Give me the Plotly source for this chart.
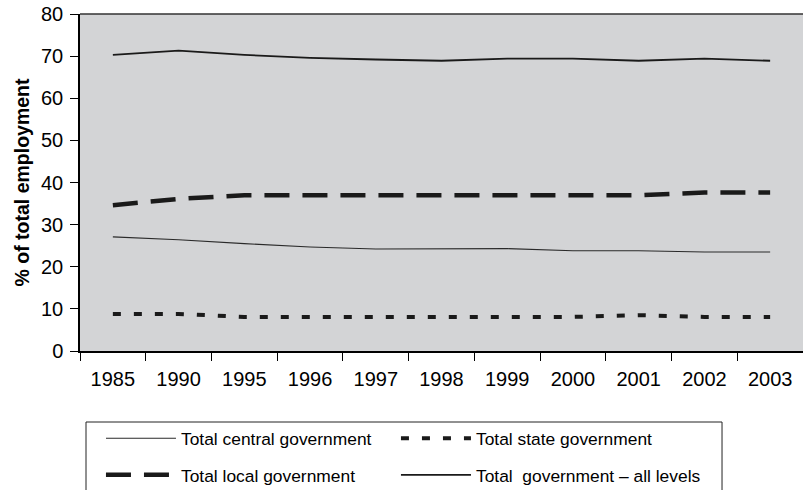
import plotly.graph_objects as go

# Government employment shares, % of total employment
years = ["1985", "1990", "1995", "1996", "1997", "1998", "1999", "2000", "2001", "2002", "2003"]
central_gov = [27.1, 26.4, 25.5, 24.7, 24.2, 24.2, 24.3, 23.8, 23.8, 23.5, 23.5]
state_gov = [8.8, 8.8, 8.1, 8.1, 8.1, 8.1, 8.1, 8.1, 8.5, 8.1, 8.1]
local_gov = [34.6, 36.1, 37.0, 37.0, 37.0, 36.9, 37.0, 37.0, 37.0, 37.6, 37.6]
all_levels = [70.3, 71.3, 70.3, 69.6, 69.2, 68.9, 69.4, 69.4, 68.9, 69.4, 68.9]

FONT = "Liberation Sans, Arial, Helvetica, sans-serif"

fig = go.Figure()
fig.add_trace(go.Scatter(
    x=years, y=central_gov, mode="lines", name="Total central government",
    line=dict(color="#2a2a2a", width=1.1), legend="legend"))
fig.add_trace(go.Scatter(
    x=years, y=state_gov, mode="lines", name="Total state government",
    line=dict(color="#1a1a1a", width=4, dash="8px,13px"), legend="legend2"))
fig.add_trace(go.Scatter(
    x=years, y=local_gov, mode="lines", name="Total local government",
    line=dict(color="#1a1a1a", width=4.5, dash="25px,13px"), legend="legend3"))
fig.add_trace(go.Scatter(
    x=years, y=all_levels, mode="lines", name="Total  government \u2013 all levels",
    line=dict(color="#1a1a1a", width=1.8), legend="legend4"))

# one single-entry legend per cell of the 2x2 key grid
legend_common = dict(
    orientation="h",
    xanchor="left",
    yanchor="middle",
    bgcolor="rgba(0,0,0,0)",
    borderwidth=0,
    font=dict(family=FONT, size=17.4, color="black"),
    itemwidth=70,
)
col_x = [0.029, 0.437]
row_y = [-0.2596, -0.368]

fig.update_layout(
    width=803, height=490,
    margin=dict(l=80, r=0, t=14, b=139, autoexpand=False),
    paper_bgcolor="white",
    plot_bgcolor="#d3d4d6",
    font=dict(family=FONT, color="black", size=20),
    showlegend=True,
    legend=dict(legend_common, x=col_x[0], y=row_y[0]),
    legend2=dict(legend_common, x=col_x[1], y=row_y[0]),
    legend3=dict(legend_common, x=col_x[0], y=row_y[1]),
    legend4=dict(legend_common, x=col_x[1], y=row_y[1]),
)

fig.update_xaxes(
    type="category",
    range=[-0.5, 10.5],
    tickson="boundaries",
    ticks="outside", ticklen=8, tickwidth=1.3, tickcolor="black",
    ticklabelstandoff=9,
    showline=True, linecolor="black", linewidth=1.5,
    showgrid=False, zeroline=False,
    tickfont=dict(family=FONT, size=20, color="black"),
)
fig.update_yaxes(
    range=[0, 80], dtick=10,
    ticks="outside", ticklen=8, tickwidth=1.3, tickcolor="black",
    ticklabelstandoff=3,
    showline=True, linecolor="black", linewidth=1.5,
    showgrid=False, zeroline=False,
    tickfont=dict(family=FONT, size=20, color="black"),
    title=dict(text="<b>% of total employment</b>", font=dict(family=FONT, size=19.5), standoff=6),
)

# thin border along the top of the plotting area
fig.add_shape(type="line", xref="paper", yref="paper", x0=0, x1=1, y0=1, y1=1,
              line=dict(color="#333", width=1.5))
# frame around the key block
fig.add_shape(type="rect", xref="paper", yref="paper",
              x0=0.0083, x1=0.888, y0=-0.2107, y1=-0.46,
              line=dict(color="#222", width=1), fillcolor="rgba(0,0,0,0)", layer="below")

fig.write_html("out.html")
